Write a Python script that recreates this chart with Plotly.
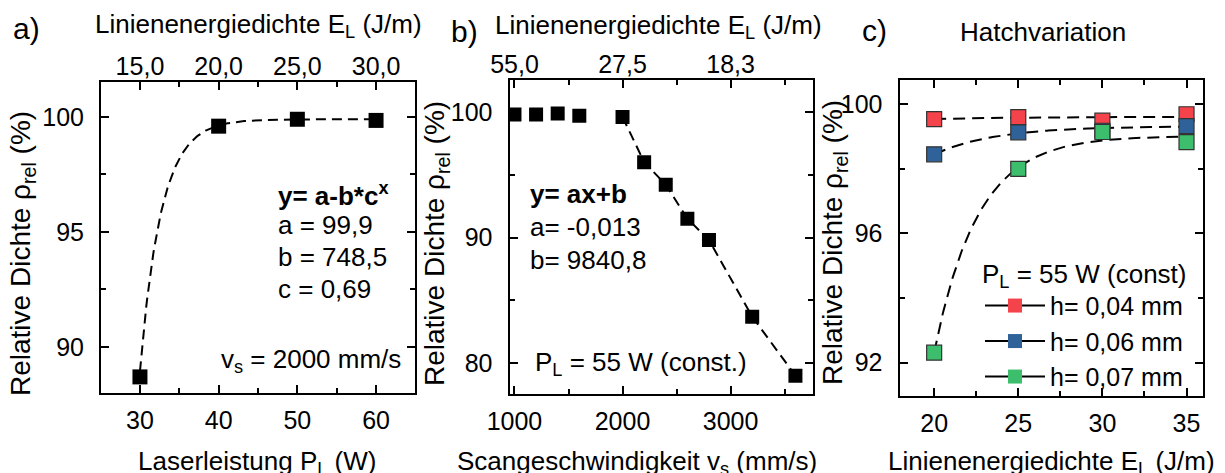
import numpy as np
import plotly.graph_objects as go

W, H = 1225, 473
FONT = "Liberation Sans, Arial, sans-serif"

# ---- a) density vs. laser power (v_s = 2000 mm/s) ----
laser_power = [30, 40, 50, 60]
density_a = [88.7, 99.6, 99.9, 99.85]
power_ticks = [30, 40, 50, 60]
energy_a_labels = ["15,0", "20,0", "25,0", "30,0"]
fit_a = {"a": 99.9, "b": 748.5e3, "c": 0.69}

# ---- b) density vs. scan speed (P_L = 55 W) ----
scan_speed = [1000, 1200, 1400, 1600, 2000, 2200, 2400, 2600, 2800, 3200, 3600]
density_b = [99.8, 99.8, 99.87, 99.7, 99.6, 96.0, 94.2, 91.5, 89.8, 83.7, 79.0]
speed_ticks = [1000, 2000, 3000]
energy_b_labels = ["55,0", "27,5", "18,3"]

# ---- c) hatch variation ----
energy_c = [20, 25, 30, 35]
hatch_labels = ["h= 0,04 mm", "h= 0,06 mm", "h= 0,07 mm"]
density_c = [
    [99.54, 99.60, 99.49, 99.69],
    [98.45, 99.13, 99.18, 99.32],
    [92.31, 98.00, 99.14, 98.83],
]
fit_c = [
    {"a": 99.61, "b": 6.07, "c": 0.80},
    {"a": 99.32, "b": 210.0, "c": 0.76},
    {"a": 99.02, "b": 15000.0, "c": 0.68},
]
hatch_colors = ["#F4434A", "#2F6298", "#3DBE6D"]


def px_x(p):
    return p / W


def px_y(p):
    return 1 - p / H


def saturation(x, p):
    return p["a"] - p["b"] * np.power(p["c"], x)


fig = go.Figure()

# a) fit curve + data
xa = np.linspace(laser_power[0], laser_power[-1], 300)
fig.add_trace(go.Scatter(x=xa, y=saturation(xa, fit_a), mode="lines",
                         line=dict(color="black", width=2, dash="10px,6px"),
                         showlegend=False, xaxis="x", yaxis="y"))
fig.add_trace(go.Scatter(x=laser_power, y=density_a, mode="markers",
                         marker=dict(symbol="square", size=15, color="black"),
                         showlegend=False, xaxis="x", yaxis="y"))
# same points on the top (energy) axis, kept invisible so that axis is drawn
fig.add_trace(go.Scatter(x=laser_power, y=density_a, mode="markers",
                         marker=dict(opacity=0), hoverinfo="skip",
                         showlegend=False, xaxis="x4", yaxis="y"))

# b) dashed trend through the high-speed points + data
trend_idx = [i for i, v in enumerate(scan_speed) if v >= 2000]
fig.add_trace(go.Scatter(x=[scan_speed[i] for i in trend_idx],
                         y=[density_b[i] for i in trend_idx], mode="lines",
                         line=dict(color="black", width=2, dash="10px,6px"),
                         showlegend=False, xaxis="x2", yaxis="y2"))
fig.add_trace(go.Scatter(x=scan_speed, y=density_b, mode="markers",
                         marker=dict(symbol="square", size=14, color="black"),
                         showlegend=False, xaxis="x2", yaxis="y2"))
fig.add_trace(go.Scatter(x=scan_speed, y=density_b, mode="markers",
                         marker=dict(opacity=0), hoverinfo="skip",
                         showlegend=False, xaxis="x5", yaxis="y2"))

# c) fit curves, data markers, legend keys
xc = np.linspace(energy_c[0], energy_c[-1], 300)
for p in fit_c:
    fig.add_trace(go.Scatter(x=xc, y=saturation(xc, p), mode="lines",
                             line=dict(color="black", width=2, dash="12px,7px"),
                             showlegend=False, xaxis="x3", yaxis="y3"))
for vals, col in zip(density_c, hatch_colors):
    fig.add_trace(go.Scatter(x=energy_c, y=vals, mode="markers",
                             marker=dict(symbol="square", size=15, color=col,
                                         line=dict(color="#333333", width=1.2)),
                             showlegend=False, xaxis="x3", yaxis="y3"))
for name, col in zip(hatch_labels, hatch_colors):
    fig.add_trace(go.Scatter(x=[None], y=[None], mode="lines+markers", name=name,
                             line=dict(color="black", width=2),
                             marker=dict(symbol="square", size=14, color=col),
                             xaxis="x3", yaxis="y3"))

tickfont = dict(family=FONT, size=25, color="black")
common = dict(showline=True, linecolor="black", linewidth=2, ticks="inside",
              ticklen=8, tickwidth=2, tickcolor="black", tickfont=tickfont,
              showgrid=False, zeroline=False, mirror=True, automargin=False)


def minor(vals):
    return dict(tickmode="array", tickvals=vals, ticks="inside", ticklen=5,
                tickwidth=2, tickcolor="black", showgrid=False)


dom_a = [px_x(101), px_x(415)]
dom_b = [px_x(509.5), px_x(812.5)]
dom_c = [px_x(899.5), px_x(1202.5)]

range_a = [25.05, 64.95]
range_b = [954, 3758]
range_c = [17.94, 35.95]

fig.update_layout(
    template="none",
    width=W, height=H, margin=dict(l=0, r=0, t=0, b=0, autoexpand=False),
    paper_bgcolor="white", plot_bgcolor="white",
    font=dict(family=FONT, color="black"),
    xaxis=dict(common, domain=dom_a, anchor="y", range=range_a,
               tickmode="array", tickvals=power_ticks,
               minor=minor([35, 45, 55]), ticklabelstandoff=4),
    yaxis=dict(common, domain=[px_y(393), px_y(82)], anchor="x", range=[88.0, 101.52],
               tickmode="array", tickvals=[90, 95, 100], mirror="ticks",
               minor=minor([92.5, 97.5]), ticklabelstandoff=10),
    xaxis4=dict(common, overlaying="x", anchor="y", side="top", range=range_a,
                tickmode="array", tickvals=power_ticks, ticktext=energy_a_labels,
                minor=minor([35, 45, 55]), ticklabelstandoff=-5),
    xaxis2=dict(common, domain=dom_b, anchor="y2", range=range_b,
                tickmode="array", tickvals=speed_ticks,
                minor=minor([1500, 2500, 3500]), ticklabelstandoff=4),
    yaxis2=dict(common, domain=[px_y(394), px_y(80)], anchor="x2", range=[77.54, 102.54],
                tickmode="array", tickvals=[80, 90, 100], mirror="ticks",
                minor=minor([85, 95]), ticklabelstandoff=10),
    xaxis5=dict(common, overlaying="x2", anchor="y2", side="top", range=range_b,
                tickmode="array", tickvals=speed_ticks, ticktext=energy_b_labels,
                minor=minor([1500, 2500, 3500]), ticklabelstandoff=-5),
    xaxis3=dict(common, domain=dom_c, anchor="y3", range=range_c,
                tickmode="array", tickvals=energy_c, mirror="allticks",
                minor=minor([22.5, 27.5, 32.5]), ticklabelstandoff=4),
    yaxis3=dict(common, domain=[px_y(396), px_y(80)], anchor="x3", range=[90.97, 100.75],
                tickmode="array", tickvals=[92, 96, 100], mirror="ticks",
                minor=minor([94, 98]), ticklabelstandoff=10),
    legend=dict(x=px_x(980), y=px_y(249), xanchor="left", yanchor="top",
                bgcolor="rgba(0,0,0,0)", itemwidth=60, tracegroupgap=0,
                font=dict(family=FONT, size=25, color="black"),
                title=dict(text="P<sub>L</sub> = 55 W (const)",
                           font=dict(family=FONT, size=26, color="black"))),
)

annots = []


def text(x, y, s, size=26, xanchor="center", yanchor="middle", angle=0):
    annots.append(dict(x=px_x(x), y=px_y(y), xref="paper", yref="paper", text=s,
                       showarrow=False, xanchor=xanchor, yanchor=yanchor,
                       textangle=angle, font=dict(family=FONT, size=size, color="black")))


# panel labels and titles
text(26, 28, "a)", size=30)
text(464, 32, "b)", size=30)
text(874, 31, "c)", size=30)
top_title = "Linienenergiedichte E<sub>L</sub> (J/m)"
text(258, 26, top_title, size=26)
text(658, 27, top_title, size=26)
text(1043, 32, "Hatchvariation", size=26)

# y axis titles
ytitle = "Relative Dichte \u03c1<sub>rel</sub> (%)"
text(22, 254, ytitle, size=28, angle=-90)
text(437, 244, ytitle, size=28, angle=-90)
text(834, 242, ytitle, size=28, angle=-90)

# x axis titles
text(257, 462, "Laserleistung P<sub>L</sub> (W)", size=26)
text(637, 462, "Scangeschwindigkeit v<sub>s</sub> (mm/s)", size=26)
text(1051, 462, "Linienenergiedichte E<sub>L</sub> (J/m)", size=26)

# fit annotations a)
text(276, 194, "<b>y= a-b*c<sup>x</sup></b>", xanchor="left")
text(276, 225, "a = 99,9", xanchor="left")
text(276, 257, "b = 748,5", xanchor="left")
text(276, 289, "c = 0,69", xanchor="left")
text(403, 360, "v<sub>s</sub> = 2000 mm/s", xanchor="right")

# fit annotations b)
text(528, 194, "<b>y= ax+b</b>", xanchor="left")
text(528, 227, "a= -0,013", xanchor="left")
text(528, 260, "b= 9840,8", xanchor="left")
text(533, 363, "P<sub>L</sub> = 55 W (const.)", xanchor="left")

fig.update_layout(annotations=annots)

fig.write_html("out.html")
